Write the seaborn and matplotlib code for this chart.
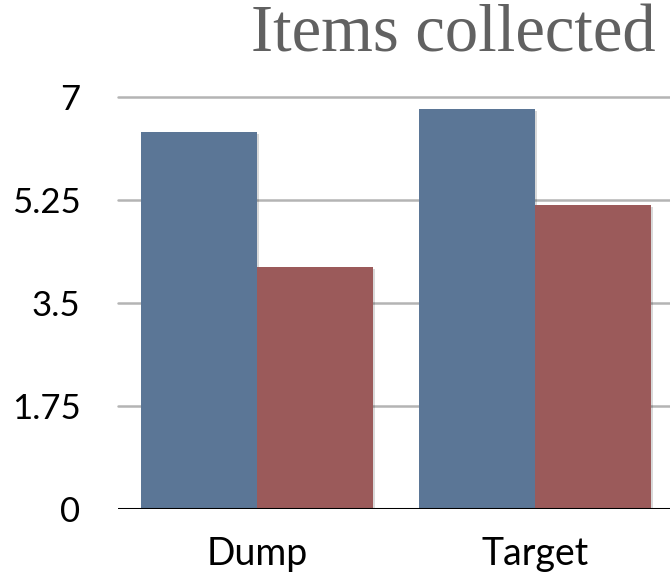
import matplotlib
matplotlib.use("Agg")
import matplotlib.pyplot as plt
import matplotlib.patheffects as pe
import seaborn as sns
import pandas as pd

# Values per category for the two series
categories = ["Dump", "Target"]
series_names = ["Series 1", "Series 2"]
series_1 = [6.40, 6.80]
series_2 = [4.10, 5.16]
y_ticks = [0, 1.75, 3.5, 5.25, 7]
y_tick_labels = ["0", "1.75", "3.5", "5.25", "7"]
title = "Items collected"

df = pd.DataFrame({
    "category": categories * 2,
    "series": [series_names[0]] * len(categories) + [series_names[1]] * len(categories),
    "value": series_1 + series_2,
})

sns.set_theme(style="white")
plt.rcParams["font.family"] = ["Lato", "DejaVu Sans"]

fig = plt.figure(figsize=(6.7, 5.76), dpi=100)
ax = fig.add_axes([0.176, 0.117, 0.83, 0.715])

palette = {series_names[0]: "#5b7696", series_names[1]: "#9b5a5a"}
sns.barplot(data=df, x="category", y="value", hue="series", order=categories,
            hue_order=series_names, palette=palette, width=0.835, gap=0,
            saturation=1, legend=False, ax=ax, zorder=3)

for bar in ax.patches:
    bar.set_edgecolor("none")
    bar.set_path_effects([pe.SimplePatchShadow(offset=(1.5, -1.5), shadow_rgbFace="black", alpha=0.15),
                          pe.Normal()])

ax.set_xlim(-0.5, 1.5)
ax.set_ylim(0, 7)
ax.set_yticks(y_ticks)
ax.set_yticklabels(y_tick_labels)
ax.set_xlabel("")
ax.set_ylabel("")

for v in y_ticks[1:]:
    ax.axhline(v, color="#b4b4b4", lw=1.8, zorder=1, clip_on=False)
ax.axhline(0, color="black", lw=2.2, zorder=4)

for s in ax.spines.values():
    s.set_visible(False)
ax.grid(False)
ax.tick_params(axis="y", length=0, pad=27, labelsize=25, labelcolor="black")
ax.tick_params(axis="x", length=0, pad=20, labelsize=27, labelcolor="black")

fig.text(0.978, 0.94, title, ha="right", va="center", fontsize=48,
         family=["Liberation Serif", "DejaVu Serif"], color="#616161")

fig.savefig("out.png", dpi=100)
